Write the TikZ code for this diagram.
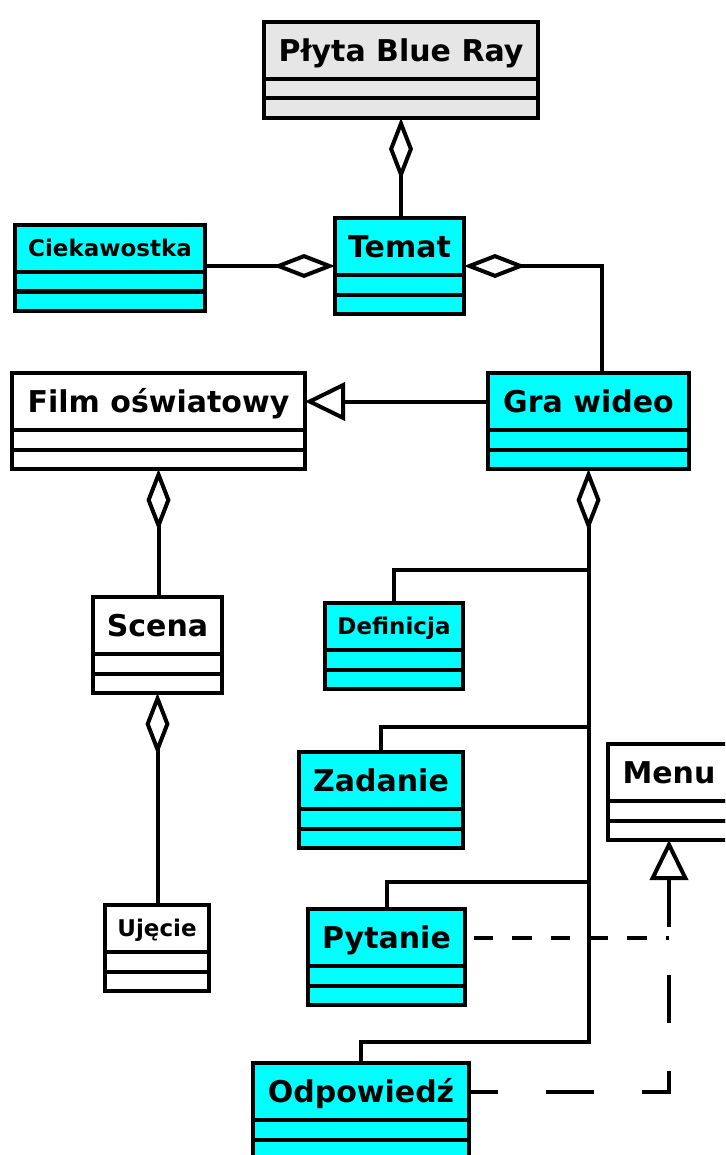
\documentclass[tikz,border=0pt]{standalone}
\usepackage{fontspec}
\setmainfont{DejaVu Sans}
\usepackage{tikz}
\usetikzlibrary{arrows.meta}
\usetikzlibrary{positioning}
\usetikzlibrary{calc}

\definecolor{turkus}{HTML}{00FFFF}
\definecolor{szary}{HTML}{E6E6E6}

\tikzset{
  pudlo/.style={draw, line width=4pt, outer sep=0pt, inner sep=0pt,
    anchor=north west, minimum height=57pt, text height=22pt, text depth=0pt,
    font=\fontsize{30}{36}\selectfont\bfseries},
  maly/.style={minimum height=47pt, text height=16.8pt,
    font=\fontsize{23}{28}\selectfont\bfseries},
  przegroda/.style={minimum height=19.5pt, text height=0pt, text depth=0pt},
  linia/.style={line width=4pt},
  agreg/.style={linia, {Diamond[open,length=62pt,width=24pt]}-},
  dziedz/.style={linia, -{Triangle[open,length=40pt,width=38pt]}},
}

% klasa UML: nazwa, opcje, polozenie, tekst
\newcommand{\klasa}[4]{%
  \node[pudlo,#2] (#1) at #3 {#4};
  \node[pudlo,#2,przegroda,below=0pt of #1] (#1-a) {};
  \node[pudlo,#2,przegroda,below=0pt of #1-a] (#1-b) {};
  \coordinate (#1-c) at ($(#1.north)!.5!(#1-b.south)$);
}

\begin{document}
\begin{tikzpicture}[x=1pt, y=-1pt]
  \useasboundingbox (0,0) rectangle (725,1155);
  \clip (0,0) rectangle (725,1155);

  \klasa{plyta}{fill=szary, minimum width=274pt}{(264,22)}{Płyta Blue Ray}
  \klasa{temat}{fill=turkus, minimum width=129pt}{(335,218)}{Temat}
  \klasa{ciek}{fill=turkus, maly, minimum width=190pt}{(15,225)}{Ciekawostka}
  \klasa{film}{fill=white, minimum width=293pt}{(12,373)}{Film oświatowy}
  \klasa{gra}{fill=turkus, minimum width=201pt}{(488,373)}{Gra wideo}
  \klasa{scena}{fill=white, minimum width=129pt}{(93,597)}{Scena}
  \klasa{ujecie}{fill=white, maly, minimum width=104pt}{(105,905)}{Ujęcie}
  \klasa{defin}{fill=turkus, maly, minimum width=138pt}{(325,603)}{Definicja}
  \klasa{zad}{fill=turkus, minimum width=164pt}{(299,752)}{Zadanie}
  \klasa{pyt}{fill=turkus, minimum width=157pt}{(308,909)}{Pytanie}
  \klasa{odp}{fill=turkus, minimum width=216pt}{(253,1063)}{Odpowiedź}
  \klasa{menu}{fill=white, minimum width=122pt}{(608,744)}{Menu}

  % agregacje
  \draw[agreg] (plyta-b.south) -- (plyta-b.south |- temat.north);
  \draw[agreg] (temat.west |- temat-c) -- (ciek.east |- temat-c);
  \draw[agreg] (temat.east |- temat-c) -| ([xshift=13pt]gra.north);
  \draw[agreg] (film-b.south) -- (film-b.south |- scena.north);
  \draw[agreg] (scena-b.south) -- (scena-b.south |- ujecie.north);
  \draw[agreg] (gra-b.south) -- ([yshift=21pt]odp.north -| gra-b.south);
  \foreach \n/\h in {defin/33, zad/25, pyt/27, odp/21}
    \draw[linia, line cap=rect] (\n.north) |- ([yshift=\h pt]\n.north -| gra-b.south);

  % dziedziczenie i realizacja
  \draw[dziedz] (gra.west) -- (film.east);
  \draw[linia, dash pattern=on 19.3pt off 19pt, dash phase=29.3pt]
    (pyt.east) -- (pyt.east -| menu-b.south);
  \draw[linia, dash pattern=on 48pt off 48pt,
        {Triangle[open,length=40pt,width=38pt]}-] (menu-b.south) |- (odp.east);
\end{tikzpicture}
\end{document}
